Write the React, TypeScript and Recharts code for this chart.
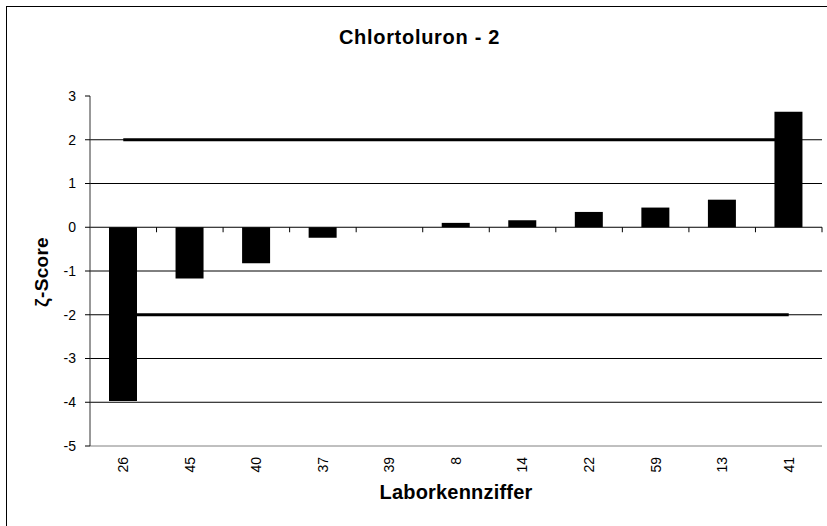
import {
  ComposedChart,
  Bar,
  Line,
  XAxis,
  YAxis,
  CartesianGrid,
  ReferenceLine,
} from "recharts";

// Laborkennziffer (lab codes) in plotted order
const labs = ["26", "45", "40", "37", "39", "8", "14", "22", "59", "13", "41"];
// zeta scores
const zScores = [-3.97, -1.17, -0.82, -0.24, 0, 0.1, 0.16, 0.35, 0.45, 0.63, 2.64];
// acceptance limits drawn as thick lines
const upperLimit = [2, 2, 2, 2, 2, 2, 2, 2, 2, 2, 2];
const lowerLimit = [-2, -2, -2, -2, -2, -2, -2, -2, -2, -2, -2];
const yTicks = [-5, -4, -3, -2, -1, 0, 1, 2, 3];
const gridValues = [-4, -3, -2, -1, 1, 2];

const FONT = "'Liberation Sans', Arial, sans-serif";

const rows = labs.map((lab, i) => ({
  lab,
  z: zScores[i],
  upper: upperLimit[i],
  lower: lowerLimit[i],
}));

const RotatedTick = (props: any) => {
  const { x, y, payload } = props;
  return (
    <text
      x={x}
      y={y}
      dy="0.35em"
      transform={`rotate(-90, ${x}, ${y})`}
      textAnchor="end"
      fontSize={14}
      fontFamily={FONT}
      fill="#000"
    >
      {payload.value}
    </text>
  );
};

// zero line with small tick marks between the categories
const ZeroLine = (props: any) => {
  const { x1, y1, x2 } = props;
  const band = (x2 - x1) / labs.length;
  const marks = Array.from({ length: labs.length }, (_, i) => x1 + band * (i + 1));
  return (
    <g>
      <line x1={x1} y1={y1} x2={x2} y2={y1} stroke="#000" strokeWidth={1} />
      {marks.map((mx, i) => (
        <line key={i} x1={mx} y1={y1} x2={mx} y2={y1 + 5} stroke="#000" strokeWidth={1} />
      ))}
    </g>
  );
};

export default function App() {
  return (
    <div
      style={{
        position: "absolute",
        left: 0,
        top: 0,
        width: 827,
        height: 526,
        overflow: "hidden",
        background: "#fff",
        fontFamily: FONT,
      }}
    >
      <div
        style={{
          position: "absolute",
          left: 6,
          top: 6,
          width: 827,
          height: 540,
          border: "1px solid #000",
        }}
      />
      <div
        style={{
          position: "absolute",
          left: 6,
          width: 827,
          top: 26,
          textAlign: "center",
          fontSize: 20,
          letterSpacing: 0.7,
          fontWeight: "bold",
        }}
      >
        Chlortoluron - 2
      </div>
      <div
        style={{
          position: "absolute",
          left: 90,
          width: 732,
          top: 481,
          textAlign: "center",
          fontSize: 20,
          letterSpacing: 0.2,
          fontWeight: "bold",
        }}
      >
        Laborkennziffer
      </div>
      <div
        style={{
          position: "absolute",
          left: 42,
          top: 272,
          transform: "translate(-50%, -50%) rotate(-90deg)",
          fontSize: 19,
          letterSpacing: 0.3,
          fontWeight: "bold",
          whiteSpace: "nowrap",
        }}
      >
        ζ-Score
      </div>
      <div style={{ position: "absolute", left: 0, top: 0 }}>
        <ComposedChart
          width={827}
          height={526}
          data={rows}
          margin={{ top: 96, right: 5, bottom: 40, left: 0 }}
        >
          <CartesianGrid
            vertical={false}
            horizontalValues={gridValues}
            stroke="#000"
            strokeWidth={1}
          />
          <XAxis
            dataKey="lab"
            height={40}
            interval={0}
            tickLine={false}
            tickSize={0}
            tickMargin={11}
            tick={<RotatedTick />}
            axisLine={{ stroke: "#808080" }}
          />
          <XAxis
            xAxisId="top"
            dataKey="lab"
            orientation="top"
            height={0}
            tick={false}
            tickLine={false}
            axisLine={{ stroke: "#808080" }}
          />
          <YAxis
            width={90}
            domain={[-5, 3]}
            ticks={yTicks}
            interval={0}
            tickSize={5}
            tickMargin={9}
            tick={{ fontSize: 14, fill: "#000", fontFamily: FONT }}
            tickLine={{ stroke: "#000" }}
            axisLine={{ stroke: "#333" }}
          />
          <YAxis
            yAxisId="right"
            orientation="right"
            width={0}
            domain={[-5, 3]}
            tick={false}
            tickLine={false}
            axisLine={{ stroke: "#808080" }}
          />
          <Line
            dataKey="upper"
            stroke="#000"
            strokeWidth={3}
            dot={false}
            activeDot={false}
            isAnimationActive={false}
          />
          <Line
            dataKey="lower"
            stroke="#000"
            strokeWidth={3}
            dot={false}
            activeDot={false}
            isAnimationActive={false}
          />
          <Bar dataKey="z" fill="#000" barSize={28} isAnimationActive={false} />
          <ReferenceLine y={0} shape={<ZeroLine />} />
        </ComposedChart>
      </div>
    </div>
  );
}
